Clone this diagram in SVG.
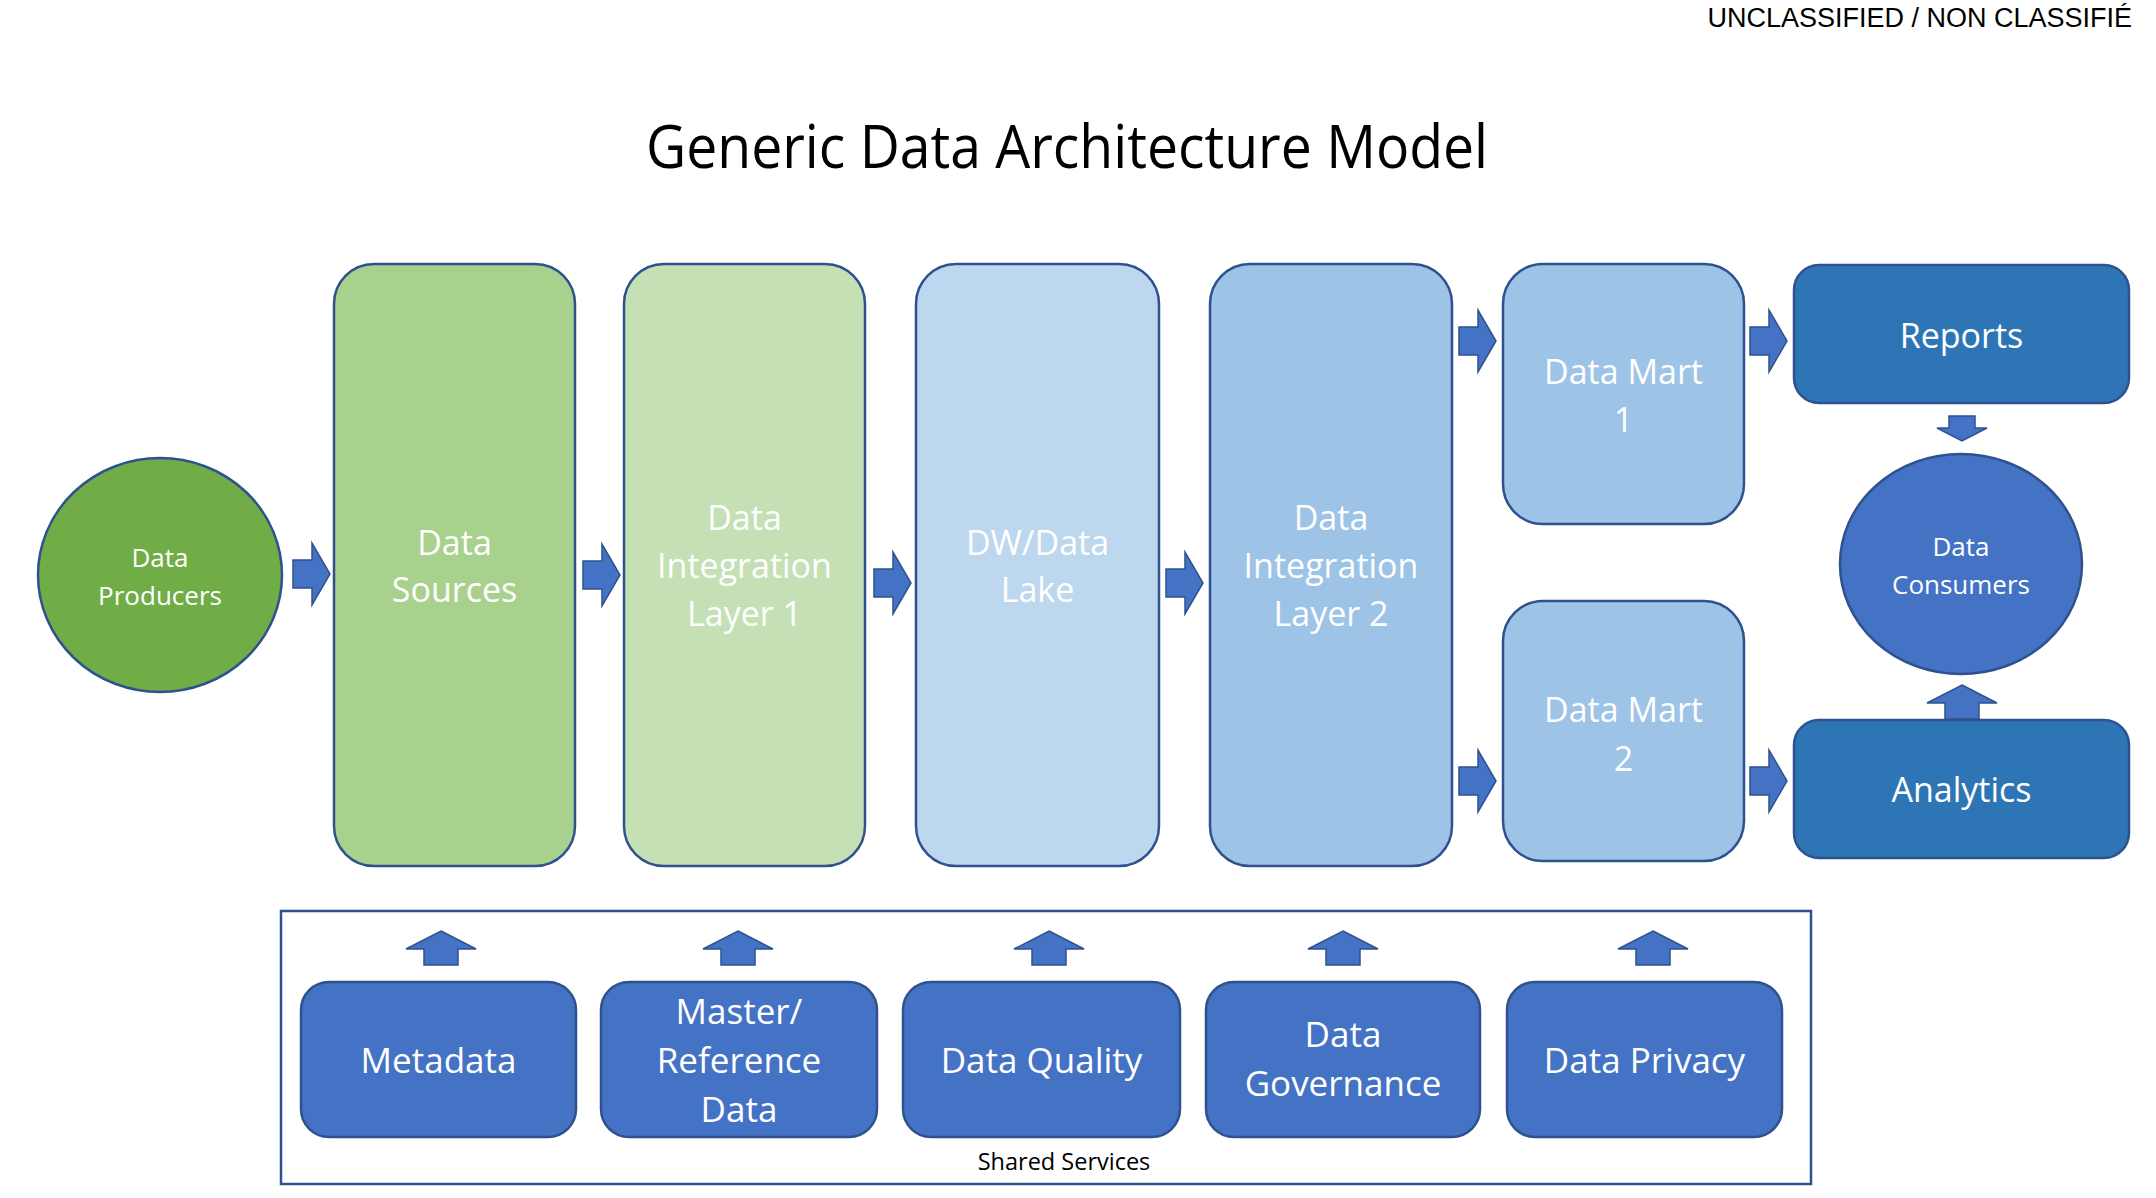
<svg xmlns="http://www.w3.org/2000/svg" xmlns:xlink="http://www.w3.org/1999/xlink" width="2156" height="1198" viewBox="0 0 2156 1198">
<defs>
<style>
.box{stroke:#2F528F;stroke-width:2.5}
.arr{fill:#4472C4;stroke:#2F528F;stroke-width:1.5}
.t{font-family:"Open Sans","Noto Sans","DejaVu Sans",sans-serif;fill:#FFFFFF;text-anchor:middle}
.big{font-size:34px}
.sm{font-size:26px}
.bot{font-size:35px}
</style>
<path id="ar" d="M0,-14 H19 V-31 L37,0 L19,31 V14 H0 Z"/>
<path id="up" d="M0,0 L35,18 H17 V34 H-17 V18 H-35 Z"/>
<path id="dn" d="M-13,0 H13 V12 H25 L0,25 L-25,12 H-13 Z"/>
</defs>
<rect width="2156" height="1198" fill="#FFFFFF"/>
<text x="2132" y="27" font-family="'Liberation Sans',Arial,sans-serif" font-size="27" text-anchor="end" fill="#000000">UNCLASSIFIED / NON CLASSIFIÉ</text>
<text x="1067" y="168" font-family="'Open Sans','Noto Sans',sans-serif" font-size="60" text-anchor="middle" fill="#000000" textLength="842" lengthAdjust="spacingAndGlyphs">Generic Data Architecture Model</text>

<g id="shared-services">
<rect x="281" y="911" width="1530" height="273" fill="none" stroke="#2F528F" stroke-width="2.5"/>
<text x="1064" y="1170" font-family="'Open Sans','Noto Sans',sans-serif" font-size="23.5" text-anchor="middle" fill="#000000">Shared Services</text>
</g>

<g id="data-producers">
<ellipse cx="160" cy="575" rx="122" ry="117" fill="#70AD47" class="box"/>
<text class="t sm" x="160" y="567">Data</text>
<text class="t sm" x="160" y="605">Producers</text>
</g>
<g id="data-sources">
<rect x="334" y="264" width="241" height="602" rx="40" fill="#A9D18E" class="box"/>
<text class="t big" x="454.5" y="555">Data</text>
<text class="t big" x="454.5" y="602">Sources</text>
</g>
<g id="data-integration-1">
<rect x="624" y="264" width="241" height="602" rx="40" fill="#C5E0B4" class="box"/>
<text class="t big" x="744.5" y="530">Data</text>
<text class="t big" x="744.5" y="578">Integration</text>
<text class="t big" x="744.5" y="626">Layer 1</text>
</g>
<g id="dw-data-lake">
<rect x="916" y="264" width="243" height="602" rx="40" fill="#BDD7EE" class="box"/>
<text class="t big" x="1037.5" y="555">DW/Data</text>
<text class="t big" x="1037.5" y="602">Lake</text>
</g>
<g id="data-integration-2">
<rect x="1210" y="264" width="242" height="602" rx="40" fill="#9DC3E6" class="box"/>
<text class="t big" x="1331" y="530">Data</text>
<text class="t big" x="1331" y="578">Integration</text>
<text class="t big" x="1331" y="626">Layer 2</text>
</g>
<g id="data-mart-1">
<rect x="1503" y="264" width="241" height="260" rx="40" fill="#9DC3E6" class="box"/>
<text class="t big" x="1623.5" y="384">Data Mart</text>
<text class="t big" x="1623.5" y="432">1</text>
</g>
<g id="data-mart-2">
<rect x="1503" y="601" width="241" height="260" rx="40" fill="#9DC3E6" class="box"/>
<text class="t big" x="1623.5" y="722">Data Mart</text>
<text class="t big" x="1623.5" y="771">2</text>
</g>
<g id="reports">
<rect x="1794" y="265" width="335" height="138" rx="25" fill="#2E75B6" class="box"/>
<text class="t big" x="1961.5" y="348">Reports</text>
</g>
<g id="analytics">
<rect x="1794" y="720" width="335" height="138" rx="25" fill="#2E75B6" class="box"/>
<text class="t big" x="1961.5" y="802">Analytics</text>
</g>
<g id="data-consumers">
<ellipse cx="1961" cy="564" rx="121" ry="110" fill="#4472C4" class="box"/>
<text class="t sm" x="1961" y="556">Data</text>
<text class="t sm" x="1961" y="594">Consumers</text>
</g>

<g id="metadata">
<rect x="301" y="982" width="275" height="155" rx="28" fill="#4472C4" class="box"/>
<text class="t bot" x="438.5" y="1073">Metadata</text>
</g>
<g id="master-reference-data">
<rect x="601" y="982" width="276" height="155" rx="28" fill="#4472C4" class="box"/>
<text class="t bot" x="739" y="1024">Master/</text>
<text class="t bot" x="739" y="1073">Reference</text>
<text class="t bot" x="739" y="1122">Data</text>
</g>
<g id="data-quality">
<rect x="903" y="982" width="277" height="155" rx="28" fill="#4472C4" class="box"/>
<text class="t bot" x="1041.5" y="1073">Data Quality</text>
</g>
<g id="data-governance">
<rect x="1206" y="982" width="274" height="155" rx="28" fill="#4472C4" class="box"/>
<text class="t bot" x="1343" y="1047">Data</text>
<text class="t bot" x="1343" y="1096">Governance</text>
</g>
<g id="data-privacy">
<rect x="1507" y="982" width="275" height="155" rx="28" fill="#4472C4" class="box"/>
<text class="t bot" x="1644.5" y="1073">Data Privacy</text>
</g>

<g id="connectors">
<use xlink:href="#ar" href="#ar" class="arr" transform="translate(293,574)"/>
<use xlink:href="#ar" href="#ar" class="arr" transform="translate(583,575)"/>
<use xlink:href="#ar" href="#ar" class="arr" transform="translate(874,583)"/>
<use xlink:href="#ar" href="#ar" class="arr" transform="translate(1166,583)"/>
<use xlink:href="#ar" href="#ar" class="arr" transform="translate(1459,341)"/>
<use xlink:href="#ar" href="#ar" class="arr" transform="translate(1459,781)"/>
<use xlink:href="#ar" href="#ar" class="arr" transform="translate(1750,341)"/>
<use xlink:href="#ar" href="#ar" class="arr" transform="translate(1750,781)"/>
<use xlink:href="#dn" href="#dn" class="arr" transform="translate(1962,416)"/>
<use xlink:href="#up" href="#up" class="arr" transform="translate(1962,685)"/>
<use xlink:href="#up" href="#up" class="arr" transform="translate(441,931)"/>
<use xlink:href="#up" href="#up" class="arr" transform="translate(738,931)"/>
<use xlink:href="#up" href="#up" class="arr" transform="translate(1049,931)"/>
<use xlink:href="#up" href="#up" class="arr" transform="translate(1343,931)"/>
<use xlink:href="#up" href="#up" class="arr" transform="translate(1653,931)"/>
</g>
</svg>
